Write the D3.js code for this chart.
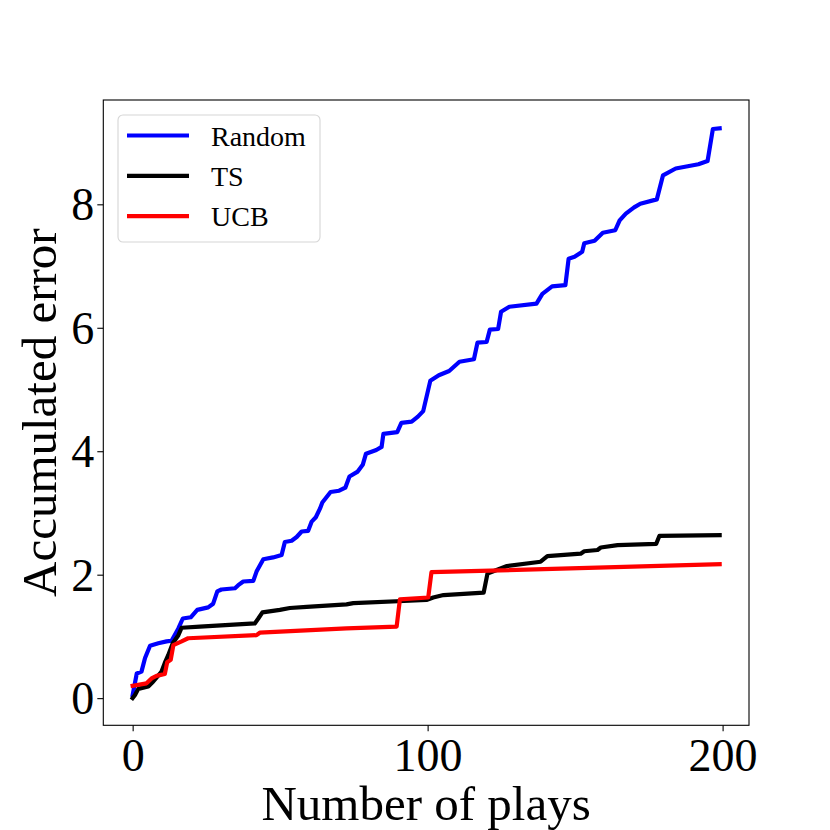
<!DOCTYPE html>
<html>
<head>
<meta charset="utf-8">
<script src="https://cdn.jsdelivr.net/npm/d3@7"></script>
<style>
body { margin:0; background:#fff; }
svg text { font-family:"Liberation Serif", "DejaVu Serif", serif; fill:#000; }
</style>
</head>
<body>
<svg id="chart"></svg>
<script>
// values (play number, accumulated error)
var randomX = [0,1.4,3,4.2,5.9,8.7,11.5,13.2,15.5,17,19.7,21.9,25.6,27.3,28.7,30.1,34.7,35.8,37.5,40.9,42,44.3,47.6,50.5,51.6,53.9,55.6,57.3,59.5,60.7,62.1,63.5,64.3,67.1,70,72.1,73.5,76.3,78,79.1,82.6,84.4,85,89.7,91.1,94.6,96.7,98.5,100.9,103.8,107.3,110.8,115.7,116.9,120,121.1,123.9,124.9,127.7,136.9,138.9,142.2,146.7,147.8,149.8,152.4,153.1,156.6,159.4,163.6,165.1,167.2,170,172.1,177.7,179.8,184.1,191.8,194.9,196.7,199]
var randomY = [0.05,0.40,0.43,0.65,0.85,0.89,0.92,0.93,1.13,1.29,1.31,1.43,1.47,1.53,1.73,1.76,1.78,1.83,1.89,1.90,2.05,2.25,2.28,2.32,2.53,2.55,2.61,2.70,2.71,2.86,2.93,3.07,3.17,3.34,3.36,3.41,3.59,3.67,3.78,3.96,4.02,4.07,4.28,4.31,4.46,4.48,4.56,4.65,5.14,5.23,5.30,5.45,5.49,5.76,5.77,5.97,5.98,6.26,6.34,6.39,6.55,6.67,6.69,7.12,7.15,7.23,7.37,7.41,7.54,7.58,7.74,7.85,7.95,8.01,8.08,8.47,8.58,8.65,8.70,9.22,9.23]

var tsX = [0,0.8,1.9,5.3,7,9.8,10.9,12.1,13.6,15.5,16.6,22.8,41.4,42.6,44,49.9,53.3,59,72.5,74.8,99.6,101.9,105.4,119,120.3,126.9,138.3,140.6,151.9,153.1,157.6,158.7,164.4,177.5,178.6,199]
var tsY = [0,0.05,0.15,0.19,0.27,0.43,0.57,0.70,0.89,1.02,1.14,1.16,1.21,1.29,1.39,1.43,1.46,1.48,1.52,1.54,1.59,1.63,1.67,1.71,2.02,2.14,2.21,2.30,2.34,2.38,2.40,2.44,2.48,2.50,2.63,2.64]

var ucbX = [0,4.7,6.4,8.1,10.9,11.7,12.9,13.8,16.6,18.8,42,43.1,72.5,89.5,90.6,100.2,101.3,199]
var ucbY = [0.20,0.24,0.32,0.36,0.39,0.58,0.62,0.86,0.92,0.97,1.02,1.06,1.13,1.16,1.60,1.63,2.04,2.17]

var seriesNames = ["Random","TS","UCB"]
var seriesColors = ["#0000ff","#000000","#ff0000"]
var xTicks = [0,100,200]
var yTicks = [0,2,4,6,8]

var screen = {width:830,height:830}
var margins = {left:103.3,right:81,top:100,bottom:104.7}
var graph = {
    width:screen.width-margins.left-margins.right,
    height:screen.height-margins.top-margins.bottom
}

var svg = d3.select("#chart")
    .attr("width",screen.width)
    .attr("height",screen.height)

var xScale = d3.scaleLinear()
    .domain([-9.95,208.95])
    .range([0,graph.width])
var yScale = d3.scaleLinear()
    .domain([-0.44,9.69])
    .range([graph.height,0])

var makeTranslateString = function(x,y)
{
    return "translate("+x+","+y+")";
}

var target = svg.append("g")
    .attr("transform",makeTranslateString(margins.left,margins.top))

// lines
var series = [
    {name:seriesNames[0],color:seriesColors[0],xs:randomX,ys:randomY},
    {name:seriesNames[1],color:seriesColors[1],xs:tsX,ys:tsY},
    {name:seriesNames[2],color:seriesColors[2],xs:ucbX,ys:ucbY}
]
var line = d3.line()
    .x(function(d){return xScale(d[0])})
    .y(function(d){return yScale(d[1])})

target.selectAll("path.series")
    .data(series)
    .enter()
    .append("path")
    .classed("series",true)
    .attr("d",function(s){
        return line(s.xs.map(function(x,i){return [x,s.ys[i]]}))
    })
    .attr("fill","none")
    .attr("stroke",function(s){return s.color})
    .attr("stroke-width",4.2)
    .attr("stroke-linejoin","round")
    .attr("stroke-linecap","square")

// axes
var xAxis = d3.axisBottom(xScale).tickValues(xTicks).tickSize(6).tickSizeOuter(0)
var yAxis = d3.axisLeft(yScale).tickValues(yTicks).tickSize(6).tickPadding(3).tickSizeOuter(0)

var gx = target.append("g")
    .attr("transform",makeTranslateString(0,graph.height))
    .call(xAxis)
gx.select(".domain").remove()
gx.selectAll("line").attr("stroke","#000").attr("stroke-width",1.1)
gx.selectAll("text")
    .attr("y",45.7)
    .attr("dy",null)
    .attr("font-size",46)
    .attr("font-family",null)

var gy = target.append("g")
    .call(yAxis)
gy.select(".domain").remove()
gy.selectAll("line").attr("stroke","#000").attr("stroke-width",1.1)
gy.selectAll("text")
    .attr("dy","0.34em")
    .attr("font-size",46)
    .attr("font-family",null)

// frame
target.append("rect")
    .attr("width",graph.width)
    .attr("height",graph.height)
    .attr("fill","none")
    .attr("stroke","#000")
    .attr("stroke-width",1.1)

// labels
svg.append("text")
    .text("Number of plays")
    .attr("text-anchor","middle")
    .attr("x",margins.left+graph.width/2)
    .attr("y",820)
    .attr("font-size",49)

svg.append("g")
    .attr("transform",makeTranslateString(56,margins.top+graph.height/2))
    .append("text")
    .text("Accumulated error")
    .attr("text-anchor","middle")
    .attr("transform","rotate(-90)")
    .attr("font-size",49)

// legend
var legend = svg.append("g")
    .attr("transform",makeTranslateString(118,115))
legend.append("rect")
    .attr("width",202)
    .attr("height",127)
    .attr("rx",5)
    .attr("fill","#fff")
    .attr("fill-opacity",0.8)
    .attr("stroke","#d6d6d6")
    .attr("stroke-width",1.1)

var entries = legend.selectAll("g.entry")
    .data(series)
    .enter()
    .append("g")
    .classed("entry",true)
    .attr("transform",function(s,i){return makeTranslateString(0,20.5+i*40.3)})

entries.append("line")
    .attr("x1",9)
    .attr("x2",71)
    .attr("stroke",function(s){return s.color})
    .attr("stroke-width",4.2)

entries.append("text")
    .text(function(s){return s.name})
    .attr("x",93)
    .attr("dy","0.36em")
    .attr("font-size",28)
</script>
</body>
</html>
